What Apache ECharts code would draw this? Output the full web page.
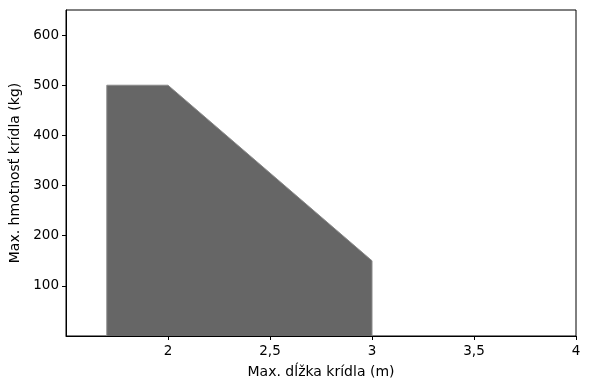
<!DOCTYPE html>
<html>
<head>
<meta charset="utf-8">
<script src="https://cdn.jsdelivr.net/npm/echarts@6/dist/echarts.min.js"></script>
<style>html,body{margin:0;padding:0;background:#fff;}#c{width:590px;height:390px;}</style>
</head>
<body>
<div id="c"></div>
<script>
const wingLength = [1.7, 1.7, 2.0, 3.0, 3.0];
const wingWeight = [0, 500, 500, 150, 0];
const xTicks = [2, 2.5, 3, 3.5, 4];
const yTicks = [100, 200, 300, 400, 500, 600];
const xLabel = 'Max. dĺžka krídla (m)';
const yLabel = 'Max. hmotnosť krídla (kg)';

const chart = echarts.init(document.getElementById('c'), null, {renderer: 'canvas'});
const font = 'DejaVu Sans';
chart.setOption({
  animation: false,
  backgroundColor: '#fff',
  grid: {left: 66, right: 14, top: 10, bottom: 54, show: true, borderColor: '#000', borderWidth: 1,
    backgroundColor: 'transparent', containLabel: false, outerBoundsMode: 'none'},
  xAxis: {
    type: 'value', min: 1.5, max: 4, interval: 0.5,
    name: xLabel, nameLocation: 'middle', nameGap: 29,
    nameTextStyle: {fontFamily: font, fontSize: 14, color: '#000'},
    axisLine: {show: true, onZero: false, lineStyle: {color: '#000', width: 1}},
    axisTick: {show: true, length: 4, customValues: xTicks, lineStyle: {color: '#000'}},
    axisLabel: {customValues: xTicks, fontFamily: font, fontSize: 13.5, color: '#000', margin: 8,
      formatter: v => String(v).replace('.', ',')},
    splitLine: {show: false}
  },
  yAxis: {
    type: 'value', min: 0, max: 650, interval: 100,
    name: yLabel, nameLocation: 'middle', nameGap: 44, nameMoveOverlap: false,
    nameTextStyle: {fontFamily: font, fontSize: 14, color: '#000'},
    axisLine: {show: true, lineStyle: {color: '#000', width: 1}},
    axisTick: {show: true, length: 4, customValues: yTicks, lineStyle: {color: '#000'}},
    axisLabel: {customValues: yTicks, fontFamily: font, fontSize: 13.5, color: '#000', margin: 7},
    splitLine: {show: false}
  },
  series: [{
    type: 'line',
    data: wingLength.map((x, i) => [x, wingWeight[i]]),
    symbol: 'none',
    lineStyle: {width: 1, color: '#8a8a8a'},
    areaStyle: {color: '#666666', opacity: 1},
    z: 1
  }]
});
</script>
</body>
</html>
